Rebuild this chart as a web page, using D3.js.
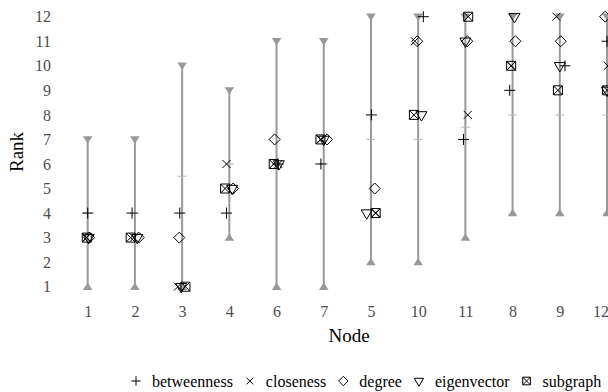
<!DOCTYPE html>
<html><head><meta charset="utf-8">
<script src="https://cdn.jsdelivr.net/npm/d3@7"></script>
<style>body{margin:0;background:#fff}svg{display:block}</style>
</head><body>
<script>
// ---- data ----
const nodes = ["1","2","3","4","6","7","5","10","11","8","9","12"];
const rangeMin = [1,1,1,3,1,1,2,2,3,4,4,4];
const rangeMax = [7,7,10,9,11,11,12,12,12,12,12,12];
const rankTicks = [1,2,3,4,5,6,7,8,9,10,11,12];
const seriesNames = ["betweenness","closeness","degree","eigenvector","subgraph"];
const betweenness = [4,4,4,4,6,6,8,12,7,9,10,11];
const closeness   = [3,3,1,6,6,7,4,11,8,10,12,10];
const degree      = [3,3,3,5,7,7,5,11,11,11,11,12];
const eigenvector = [3,3,1,5,6,7,4,8,11,12,10,9];
const subgraph    = [3,3,1,5,6,7,4,8,12,10,9,9];
// horizontal jitter, in units of node spacing
const jitBetweenness = [0,-0.06,-0.05,-0.06,0.03,-0.06,0.01,0.11,-0.04,-0.06,0.11,0];
const jitCloseness   = [-0.03,-0.02,-0.09,-0.06,0.04,-0.06,0.1,-0.07,0.05,-0.03,-0.07,0.02];
const jitDegree      = [0.03,0.08,-0.06,0.08,-0.04,0.07,0.08,-0.02,0.04,0.06,0.02,-0.04];
const jitEigenvector = [0.02,0.05,-0.02,0.06,0.05,0.0,-0.09,0.07,0.0,0.04,0.0,0.0];
const jitSubgraph    = [-0.02,-0.09,0.07,-0.09,-0.06,-0.07,0.1,-0.09,0.06,-0.03,-0.04,0.0];
const seriesValues = [betweenness, closeness, degree, eigenvector, subgraph];
const seriesJitter = [jitBetweenness, jitCloseness, jitDegree, jitEigenvector, jitSubgraph];

// ---- layout ----
const W = 608, H = 392;
const FONT = "'Liberation Serif','Times New Roman',serif";
const svg = d3.select("body").append("svg").attr("width", W).attr("height", H)
  .style("font-family", FONT);
svg.append("rect").attr("width", W).attr("height", H).attr("fill", "#fff");

const x = d3.scalePoint().domain(nodes).range([87.7, 607]).padding(0);
const step = x.step();
const y = d3.scaleLinear().domain([1, 12]).range([286.7, 16.7]);

// axes (text only)
const yAxis = svg.append("g").attr("transform", "translate(56,0)")
  .call(d3.axisLeft(y).tickValues(rankTicks).tickFormat(d3.format("d")).tickSize(0).tickPadding(5));
yAxis.select(".domain").remove();
yAxis.attr("font-family", null);
yAxis.selectAll("text").attr("fill", "#4d4d4d").style("font-size", "16px").style("font-family", FONT);

const xAxis = svg.append("g").attr("transform", "translate(0,301)")
  .call(d3.axisBottom(x).tickSize(0).tickPadding(5));
xAxis.select(".domain").remove();
xAxis.attr("font-family", null);
xAxis.selectAll("text").attr("fill", "#4d4d4d").style("font-size", "16px").style("font-family", FONT);
// keep the last label inside the window edge, as in the reference
xAxis.selectAll(".tick").filter(d => d === nodes[nodes.length - 1]).select("text")
  .attr("text-anchor", "end").attr("x", W - x(nodes[nodes.length - 1]) + 0.5);

svg.append("text").attr("x", 349).attr("y", 342).attr("text-anchor", "middle")
  .style("font-size", "19px").attr("fill", "#000").text("Node");
svg.append("text").attr("transform", "translate(23,152) rotate(-90)").attr("text-anchor", "middle")
  .style("font-size", "19px").attr("fill", "#000").text("Rank");

// ---- ranges ----
const grey = "#999999";
const rg = svg.append("g");
nodes.forEach((n, i) => {
  const cx = x(n);
  rg.append("line").attr("x1", cx).attr("x2", cx).attr("y1", y(rangeMin[i])).attr("y2", y(rangeMax[i]))
    .attr("stroke", grey).attr("stroke-width", 2);
  const mid = (rangeMin[i] + rangeMax[i]) / 2;
  rg.append("line").attr("x1", cx - 4.5).attr("x2", cx + 4.5).attr("y1", y(mid)).attr("y2", y(mid))
    .attr("stroke", "#b8b8b8").attr("stroke-width", 1);
  const yt = y(rangeMax[i]), yb = y(rangeMin[i]);
  rg.append("path").attr("d", `M${cx-4.8},${yt-3.2}L${cx+4.8},${yt-3.2}L${cx},${yt+4.2}Z`).attr("fill", grey);
  rg.append("path").attr("d", `M${cx-4.8},${yb+3.2}L${cx+4.8},${yb+3.2}L${cx},${yb-4.2}Z`).attr("fill", grey);
});

// ---- shapes ----
function shapePath(k, s) {
  s = s || 1;
  switch (k) {
    case 0: { const a = 5.5*s; return `M${-a},0H${a}M0,${-a}V${a}`; }
    case 1: { const a = 4*s; return `M${-a},${-a}L${a},${a}M${-a},${a}L${a},${-a}`; }
    case 2: { const a = 5.5*s; return `M0,${-a}L${a},0L0,${a}L${-a},0Z`; }
    case 3: { const w = 5.5*s, t = 3.2*s, b = 6.2*s; return `M${-w},${-t}L${w},${-t}L0,${b}Z`; }
    case 4: { const a = 4.5*s; return `M${-a},${-a}H${a}V${a}H${-a}ZM${-a},${-a}L${a},${a}M${-a},${a}L${a},${-a}`; }
  }
}
const pg = svg.append("g");
seriesValues.forEach((vals, k) => {
  pg.selectAll(null).data(vals.map((v, i) => ({v, i}))).enter().append("path")
    .attr("transform", d => `translate(${x(nodes[d.i]) + seriesJitter[k][d.i]*step},${y(d.v)})`)
    .attr("d", shapePath(k)).attr("fill", "none").attr("stroke", "#000").attr("stroke-width", 1);
});

// ---- legend ----
const lg = svg.append("g").attr("transform", "translate(0,381)");
let lx = 136;
seriesNames.forEach((name, k) => {
  lg.append("path").attr("transform", `translate(${lx},0)`).attr("d", shapePath(k, 0.85))
    .attr("fill", "none").attr("stroke", "#000").attr("stroke-width", 1);
  const t = lg.append("text").attr("x", lx + 16).attr("y", 5.5).style("font-size", "16px")
    .attr("fill", "#000").text(name);
  lx += 16 + t.node().getComputedTextLength() + 17;
});
</script>
</body></html>
